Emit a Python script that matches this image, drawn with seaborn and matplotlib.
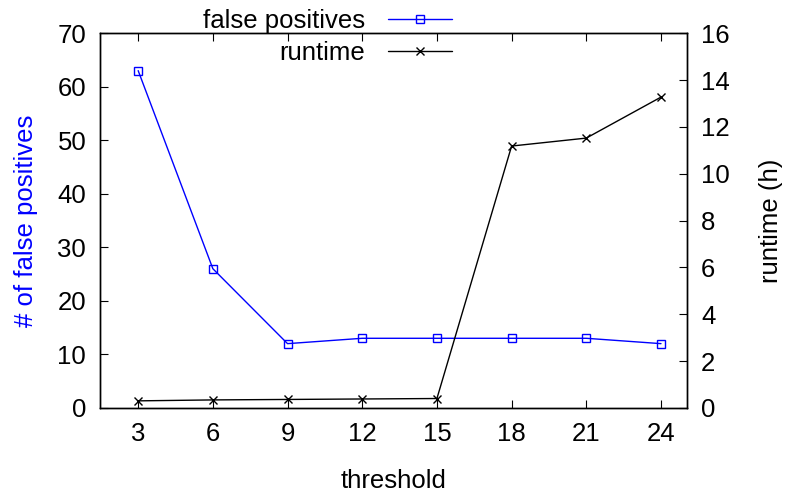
import numpy as np
import pandas as pd
import matplotlib
matplotlib.use('Agg')
import matplotlib.pyplot as plt
import seaborn as sns

# data
thresholds = [3, 6, 9, 12, 15, 18, 21, 24]
false_positives = [63, 26, 12, 13, 13, 13, 13, 12]
runtime_h = [0.30, 0.34, 0.36, 0.38, 0.40, 11.18, 11.52, 13.27]

df = pd.DataFrame({'threshold': thresholds,
                   'false positives': false_positives,
                   'runtime': runtime_h})

sns.set_style('white')
plt.rcParams['font.family'] = ['Liberation Sans', 'DejaVu Sans']
plt.rcParams['font.size'] = 18.5
plt.rcParams['text.color'] = 'black'
plt.rcParams['axes.labelcolor'] = 'black'
plt.rcParams['xtick.color'] = 'black'
plt.rcParams['ytick.color'] = 'black'

fig = plt.figure(figsize=(7.88, 4.95), dpi=100)
ax = fig.add_axes([0.127, 0.176, 0.745, 0.757])
ax2 = ax.twinx()

sns.lineplot(data=df, x='threshold', y='false positives', ax=ax, color='#0000ff',
             marker='s', markersize=5.5, markerfacecolor='none', markeredgecolor='#0000ff',
             markeredgewidth=1.0, linewidth=1.0, label='false positives', legend=False)
sns.lineplot(data=df, x='threshold', y='runtime', ax=ax2, color='black',
             marker='x', markersize=5.5, markeredgecolor='black', markeredgewidth=1.0,
             linewidth=1.0, label='runtime', legend=False)

ax.set_xlim(1.47, 25.05)
ax.set_ylim(0, 70)
ax2.set_ylim(0, 16)
ax.set_xticks(thresholds)
ax.set_yticks(range(0, 71, 10))
ax2.set_yticks(range(0, 17, 2))

ax.set_xlabel('threshold', labelpad=17, fontsize=18.5)
ax.set_ylabel('# of false positives', color='#0000ff', labelpad=14, fontsize=18.5)
ax2.set_ylabel('runtime (h)', labelpad=21, fontsize=18.5)

ax.tick_params(axis='x', direction='in', length=6, top=True, bottom=True, pad=10, labelsize=18.5)
ax.tick_params(axis='y', direction='in', length=6, left=True, right=False, pad=10, labelsize=18.5)
ax2.tick_params(axis='y', direction='in', length=6, right=True, left=False, pad=10, labelsize=18.5)

for a in (ax, ax2):
    for s in a.spines.values():
        s.set_color('black')
        s.set_linewidth(1.0)

h1, l1 = ax.get_legend_handles_labels()
h2, l2 = ax2.get_legend_handles_labels()
fig.legend(h1 + h2, l1 + l2, loc='upper right', bbox_to_anchor=(0.603, 1.028),
           frameon=False, markerfirst=False, handlelength=2.5, fontsize=18.5,
           labelspacing=0.32, handletextpad=0.9)

fig.savefig('out.png', dpi=100)
